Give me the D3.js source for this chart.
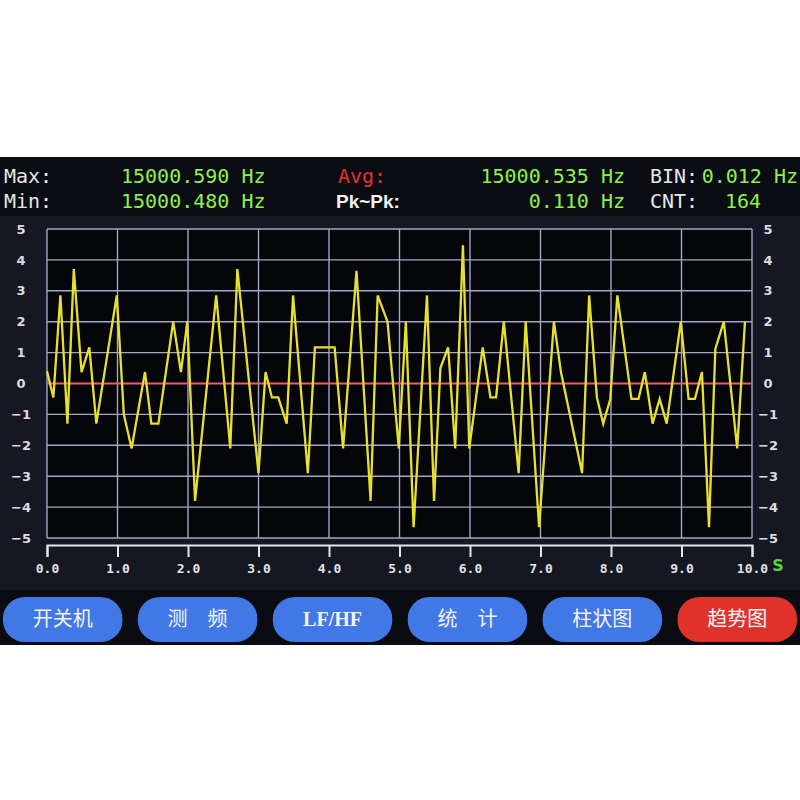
<!DOCTYPE html>
<html><head><meta charset="utf-8">
<script src="https://cdn.jsdelivr.net/npm/d3@7/dist/d3.min.js"></script>
<style>
html,body{margin:0;padding:0;background:#ffffff;}
svg{display:block;}
</style></head>
<body>
<svg id="c" width="800" height="800"></svg>
<script>
// ---- data ----
const times = [0.0,0.09,0.19,0.29,0.38,0.49,0.6,0.7,0.99,1.09,1.2,1.39,1.48,1.58,1.79,1.9,1.99,2.1,2.4,2.6,2.7,3.0,3.1,3.19,3.28,3.4,3.49,3.7,3.8,4.08,4.2,4.39,4.59,4.69,4.83,4.99,5.09,5.2,5.39,5.49,5.58,5.69,5.79,5.9,5.99,6.18,6.29,6.37,6.48,6.69,6.79,6.98,7.19,7.29,7.59,7.69,7.8,7.89,7.99,8.09,8.29,8.39,8.48,8.59,8.69,8.79,8.99,9.1,9.19,9.29,9.39,9.48,9.6,9.79,9.9];
const values = [0.4,-0.45,2.85,-1.3,3.7,0.37,1.17,-1.3,2.85,-1.0,-2.1,0.37,-1.3,-1.3,2.0,0.37,2.0,-3.8,2.85,-2.1,3.7,-2.9,0.37,-0.45,-0.45,-1.3,2.85,-2.9,1.17,1.17,-2.1,3.65,-3.8,2.85,2.0,-2.1,2.0,-4.65,2.85,-3.8,0.5,1.17,-2.1,4.47,-2.1,1.17,-0.45,-0.45,2.0,-2.9,2.0,-4.65,2.0,0.37,-2.9,2.85,-0.45,-1.3,-0.5,2.85,-0.5,-0.5,0.37,-1.3,-0.5,-1.3,2.0,-0.5,-0.5,0.37,-4.65,1.12,2.0,-2.1,2.0];
const xTicks = [0,1,2,3,4,5,6,7,8,9,10];
const yTicks = [5,4,3,2,1,0,-1,-2,-3,-4,-5];
const statLabels = ["Max:","Min:","Avg:","Pk~Pk:","BIN:","CNT:"];
const statValues = ["15000.590 Hz","15000.480 Hz","15000.535 Hz","0.110 Hz","0.012 Hz","164"];
const buttons = ["开关机","测　频","LF/HF","统　计","柱状图","趋势图"];
const activeButton = "趋势图";

// ---- layout ----
const svg = d3.select("#c");
const W = 800;
const x = d3.scaleLinear().domain([0,10]).range([47,752]);
const y = d3.scaleLinear().domain([-5,5]).range([538,229]);

// screen background
svg.append("rect").attr("x",0).attr("y",157).attr("width",W).attr("height",488).attr("fill","#0b0c12");
svg.append("rect").attr("x",0).attr("y",216).attr("width",W).attr("height",374).attr("fill","#151722");

// header stats
const mono = "'DejaVu Sans Mono','Liberation Mono',monospace";
const g1 = svg.append("g").attr("font-family",mono).attr("font-size",20);
const green = "#8ef04a";
g1.append("text").attr("x",4).attr("y",183).attr("fill","#e6e6e6").text(statLabels[0]);
g1.append("text").attr("x",4).attr("y",208).attr("fill","#e6e6e6").text(statLabels[1]);
g1.append("text").attr("x",121).attr("y",183).attr("fill",green).text(statValues[0]);
g1.append("text").attr("x",121).attr("y",208).attr("fill",green).text(statValues[1]);
g1.append("text").attr("x",338).attr("y",183).attr("fill","#e8322c").text(statLabels[2]);
g1.append("text").attr("x",336).attr("y",208).attr("fill","#f2f2f2").attr("font-family","'Liberation Sans',Arial,sans-serif").attr("font-weight","bold").attr("font-size",19).text(statLabels[3]);
g1.append("text").attr("x",625).attr("y",183).attr("text-anchor","end").attr("fill",green).text(statValues[2]);
g1.append("text").attr("x",625).attr("y",208).attr("text-anchor","end").attr("fill",green).text(statValues[3]);
g1.append("text").attr("x",650).attr("y",183).attr("fill","#e6e6e6").text(statLabels[4]);
g1.append("text").attr("x",650).attr("y",208).attr("fill","#e6e6e6").text(statLabels[5]);
g1.append("text").attr("x",798).attr("y",183).attr("text-anchor","end").attr("fill",green).text(statValues[4]);
g1.append("text").attr("x",761).attr("y",208).attr("text-anchor","end").attr("fill",green).text(statValues[5]);

// plot background
svg.append("rect").attr("x",x(0)).attr("y",y(5)).attr("width",x(10)-x(0)).attr("height",y(-5)-y(5)).attr("fill","#05060a");

// grid
const gridColor = "#a4a7c6";
svg.append("g").selectAll("line.v").data(xTicks).join("line")
  .attr("x1",d=>x(d)).attr("x2",d=>x(d)).attr("y1",y(5)).attr("y2",y(-5))
  .attr("stroke",gridColor).attr("stroke-width",1.4);
svg.append("g").selectAll("line.h").data(yTicks.filter(d=>d!==0)).join("line")
  .attr("x1",x(0)).attr("x2",x(10)).attr("y1",d=>y(d)).attr("y2",d=>y(d))
  .attr("stroke",gridColor).attr("stroke-width",1.4);
svg.append("line").attr("x1",x(0)).attr("x2",x(10)).attr("y1",y(0)).attr("y2",y(0))
  .attr("stroke","#e8606a").attr("stroke-width",2);

// data line
const line = d3.line().x((d,i)=>x(times[i])).y(d=>y(d));
svg.append("path").datum(values).attr("d",line).attr("fill","none")
  .attr("stroke","#e8e030").attr("stroke-width",2.3).attr("stroke-linejoin","miter");

// y axes labels
const yAxisL = d3.axisLeft(y).tickValues(yTicks).tickSize(0).tickPadding(0).tickFormat(d3.format("d"));
const gl = svg.append("g").attr("transform","translate(21,0)").call(yAxisL);
const yAxisR = d3.axisRight(y).tickValues(yTicks).tickSize(0).tickPadding(0).tickFormat(d3.format("d"));
const gr = svg.append("g").attr("transform","translate(768,0)").call(yAxisR);
[gl,gr].forEach(g=>{
  g.select(".domain").remove();
  g.selectAll("text").attr("text-anchor","middle").attr("fill","#dcdce4")
   .attr("font-family","'DejaVu Sans',sans-serif").attr("font-weight","bold").attr("font-size",13);
});

// x axis bracket
const xAxis = d3.axisBottom(x).tickValues(xTicks).tickSize(12).tickSizeOuter(12).tickPadding(7).tickFormat(d3.format(".1f"));
const gx = svg.append("g").attr("transform","translate(0,545)").call(xAxis);
gx.select(".domain").attr("stroke","#e4e4ea").attr("stroke-width",2);
gx.selectAll(".tick line").attr("stroke","#e4e4ea").attr("stroke-width",2);
gx.selectAll("text").attr("fill","#e2e2e8").attr("font-family",mono).attr("font-weight","bold").attr("font-size",13);
svg.append("text").attr("x",778).attr("y",571).attr("text-anchor","middle").attr("fill","#5ed23c")
  .attr("font-family","'DejaVu Sans',sans-serif").attr("font-weight","bold").attr("font-size",16).text("S");

// buttons
const bx = d3.scaleBand().domain(buttons).range([3,797]).paddingInner(0.115).paddingOuter(0);
const gb = svg.append("g").selectAll("g").data(buttons).join("g")
  .attr("transform",d=>`translate(${bx(d)},597)`);
gb.append("rect").attr("width",bx.bandwidth()).attr("height",45).attr("rx",22).attr("ry",21)
  .attr("fill",d=>d===activeButton?"#e0322a":"#4277e6");
gb.append("text").attr("x",bx.bandwidth()/2).attr("y",29).attr("text-anchor","middle")
  .attr("fill","#f4f4f8").attr("font-size",20)
  .attr("font-family",d=>d==="LF/HF"?"'Liberation Serif',serif":"'Noto Sans CJK SC',sans-serif")
  .attr("font-weight",d=>d==="LF/HF"?"bold":"normal")
  .text(d=>d);
</script>
</body></html>
